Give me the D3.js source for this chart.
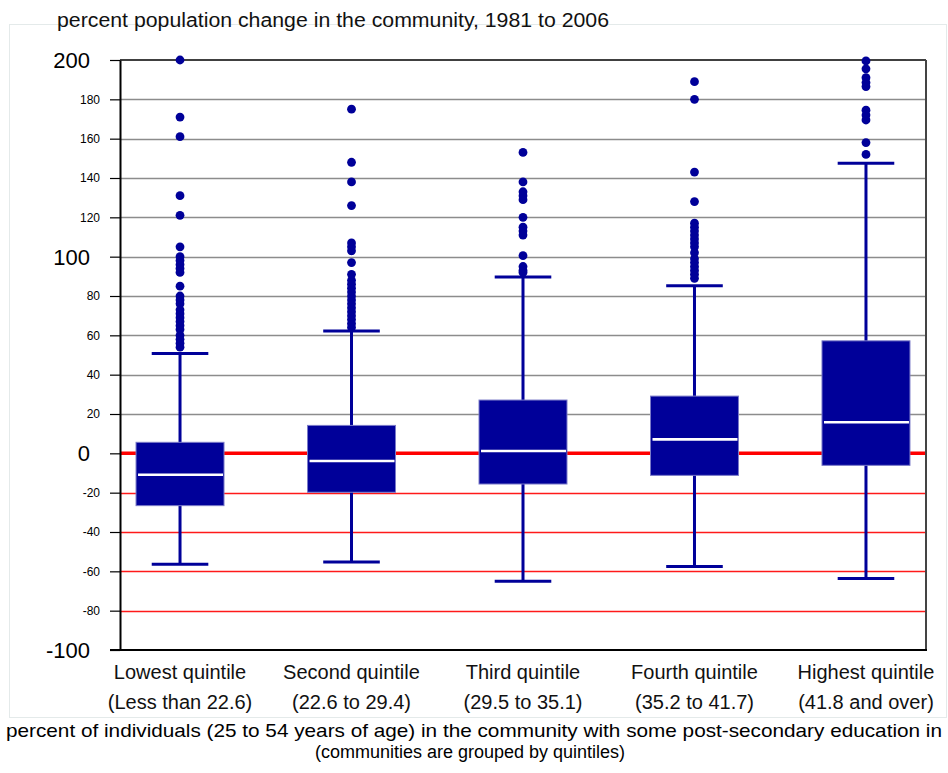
<!DOCTYPE html>
<html>
<head>
<meta charset="utf-8">
<script src="https://cdn.jsdelivr.net/npm/d3@7/dist/d3.min.js"></script>
<style>
  html, body { margin: 0; padding: 0; background: #ffffff; }
  svg { display: block; font-family: "Liberation Sans", Arial, sans-serif; }
</style>
</head>
<body>
<svg id="chart" width="948" height="773"></svg>
<script>
// Quintile groups of communities by share of adults with post-secondary education
const categories = ["Lowest quintile", "Second quintile", "Third quintile", "Fourth quintile", "Highest quintile"];
const ranges = ["(Less than 22.6)", "(22.6 to 29.4)", "(29.5 to 35.1)", "(35.2 to 41.7)", "(41.8 and over)"];

// Box-plot statistics: percent population change, 1981 to 2006
const whiskerLow  = [-56.4, -55.3, -65.0, -57.6, -63.7];
const quartile1   = [-26.6, -19.8, -15.6, -11.2,  -6.1];
const medians     = [-10.9,  -3.9,   1.2,   7.1,  15.8];
const quartile3   = [  5.6,  14.2,  27.1,  29.1,  57.2];
const whiskerHigh = [ 50.8,  62.2,  89.6,  85.2, 147.5];

// Outlying communities in each group
const outliersLowest  = [200, 171, 161, 131, 121, 105, 100, 98, 96, 94, 92, 85, 80, 78, 76, 73, 71, 69, 67, 65, 63, 60, 58, 56, 54];
const outliersSecond  = [175, 148, 138, 126, 107, 105, 103, 97, 91, 88, 86, 84, 82, 80, 78, 76, 74, 72, 70, 68, 66, 64];
const outliersThird   = [153, 138, 133, 131, 129, 120, 115, 113, 111, 100.5, 95, 93, 92];
const outliersFourth  = [189, 180, 143, 128, 117, 115, 113, 111, 109, 107, 105, 102, 99, 97, 95, 93, 91, 89];
const outliersHighest = [199.5, 195.5, 191, 188.5, 186.5, 174.5, 172, 169.5, 158, 152];
const outliers = [outliersLowest, outliersSecond, outliersThird, outliersFourth, outliersHighest];

// Axis ticks
const yTicks = d3.range(-100, 201, 20);
const majorTicks = [-100, 0, 100, 200];

const titleText = "percent population change in the community, 1981 to 2006";
const xTitleLines = [
  "percent of individuals (25 to 54 years of age) in the community with some post-secondary education in",
  "(communities are grouped by quintiles)"
];

const svg = d3.select("#chart");
const plot = { left: 120, right: 926, top: 60, bottom: 650 };

const x = d3.scalePoint()
  .domain(categories)
  .range([plot.left, plot.right])
  .padding(0.35);

const y = d3.scaleLinear()
  .domain([-100, 200])
  .range([plot.bottom, plot.top]);

const boxW = x.step() * 0.513;
const capW = x.step() * 0.33;
const navy = "#000099";

// Faint outer frame
svg.append("rect")
  .attr("x", 9.5).attr("y", 24.5)
  .attr("width", 937).attr("height", 693)
  .attr("fill", "none")
  .attr("stroke", "#e4eaea")
  .attr("stroke-width", 1);

// Title
svg.append("text")
  .attr("x", 57).attr("y", 27)
  .attr("font-size", 20)
  .attr("textLength", 552)
  .attr("lengthAdjust", "spacingAndGlyphs")
  .attr("fill", "#111")
  .text(titleText);

// Gridlines: grey above zero, red below
const grid = svg.append("g");
grid.selectAll("line")
  .data(yTicks.filter(v => v !== 0 && v !== -100 && v !== 200))
  .join("line")
  .attr("x1", plot.left).attr("x2", plot.right)
  .attr("y1", d => Math.round(y(d)) + 0.5)
  .attr("y2", d => Math.round(y(d)) + 0.5)
  .attr("stroke", d => d > 0 ? "#8c8c8c" : "#ff1a1a")
  .attr("stroke-width", 1.3);

// Zero reference line
svg.append("line")
  .attr("x1", plot.left).attr("x2", plot.right)
  .attr("y1", y(0)).attr("y2", y(0))
  .attr("stroke", "#ff0000")
  .attr("stroke-width", 3.5);

// Plot frame: top, right
svg.append("line")
  .attr("x1", plot.left).attr("x2", plot.right)
  .attr("y1", plot.top).attr("y2", plot.top)
  .attr("stroke", "#000").attr("stroke-width", 1.5);
svg.append("line")
  .attr("x1", plot.right).attr("x2", plot.right)
  .attr("y1", plot.top).attr("y2", plot.bottom)
  .attr("stroke", "#444").attr("stroke-width", 2);

// Boxes, whiskers, medians, outliers
const rows = categories.map((c, i) => ({
  c, lo: whiskerLow[i], q1: quartile1[i], med: medians[i], q3: quartile3[i], hi: whiskerHigh[i], out: outliers[i]
}));

const g = svg.append("g").selectAll("g.box").data(rows).join("g").attr("class", "box");

g.append("line")
  .attr("x1", d => x(d.c)).attr("x2", d => x(d.c))
  .attr("y1", d => y(d.hi)).attr("y2", d => y(d.lo))
  .attr("stroke", navy).attr("stroke-width", 3);

g.append("line")
  .attr("x1", d => x(d.c) - capW / 2).attr("x2", d => x(d.c) + capW / 2)
  .attr("y1", d => y(d.hi)).attr("y2", d => y(d.hi))
  .attr("stroke", navy).attr("stroke-width", 3);

g.append("line")
  .attr("x1", d => x(d.c) - capW / 2).attr("x2", d => x(d.c) + capW / 2)
  .attr("y1", d => y(d.lo)).attr("y2", d => y(d.lo))
  .attr("stroke", navy).attr("stroke-width", 3);

g.append("rect")
  .attr("x", d => x(d.c) - boxW / 2)
  .attr("y", d => y(d.q3))
  .attr("width", boxW)
  .attr("height", d => y(d.q1) - y(d.q3))
  .attr("fill", navy)
  .attr("stroke", "#7a7ac8")
  .attr("stroke-width", 1);

g.append("line")
  .attr("x1", d => x(d.c) - boxW / 2 + 2).attr("x2", d => x(d.c) + boxW / 2 - 1)
  .attr("y1", d => y(d.med)).attr("y2", d => y(d.med))
  .attr("stroke", "#ffffff").attr("stroke-width", 2.6);

g.selectAll("circle")
  .data(d => d.out.map(v => ({ c: d.c, v })))
  .join("circle")
  .attr("cx", d => x(d.c))
  .attr("cy", d => y(d.v))
  .attr("r", 4.4)
  .attr("fill", navy);

// Left axis with mixed label sizes
const yAxis = svg.append("g").attr("transform", `translate(${plot.left},0)`)
  .call(d3.axisLeft(y).tickValues(yTicks).tickSize(10).tickSizeOuter(0).tickFormat(""));
yAxis.select(".domain").attr("stroke", "#000").attr("stroke-width", 2);
yAxis.selectAll(".tick line").attr("stroke", "#000").attr("stroke-width", 1.2);

svg.append("g").selectAll("text")
  .data(yTicks)
  .join("text")
  .attr("x", d => majorTicks.includes(d) ? 90 : 100)
  .attr("y", d => y(d))
  .attr("dy", d => majorTicks.includes(d) ? "0.36em" : "0.35em")
  .attr("text-anchor", "end")
  .attr("font-size", d => majorTicks.includes(d) ? 22 : 12)
  .attr("fill", "#000")
  .text(d => d);

// Bottom axis line
svg.append("line")
  .attr("x1", plot.left - 10).attr("x2", plot.right + 1)
  .attr("y1", plot.bottom).attr("y2", plot.bottom)
  .attr("stroke", "#000").attr("stroke-width", 2);

// Category labels
const xl = svg.append("g").selectAll("g").data(categories).join("g");
xl.append("text")
  .attr("x", d => x(d)).attr("y", 679)
  .attr("text-anchor", "middle")
  .attr("font-size", 20)
  .attr("fill", "#111")
  .text(d => d);
xl.append("text")
  .attr("x", d => x(d)).attr("y", 709)
  .attr("text-anchor", "middle")
  .attr("font-size", 20)
  .attr("fill", "#111")
  .text((d, i) => ranges[i]);

// Horizontal axis title
svg.append("text")
  .attr("x", 942).attr("y", 737)
  .attr("text-anchor", "end")
  .attr("font-size", 18.5)
  .attr("textLength", 936)
  .attr("lengthAdjust", "spacingAndGlyphs")
  .attr("fill", "#000")
  .text(xTitleLines[0]);
svg.append("text")
  .attr("x", 470).attr("y", 758)
  .attr("text-anchor", "middle")
  .attr("font-size", 18)
  .attr("fill", "#000")
  .text(xTitleLines[1]);
</script>
</body>
</html>
